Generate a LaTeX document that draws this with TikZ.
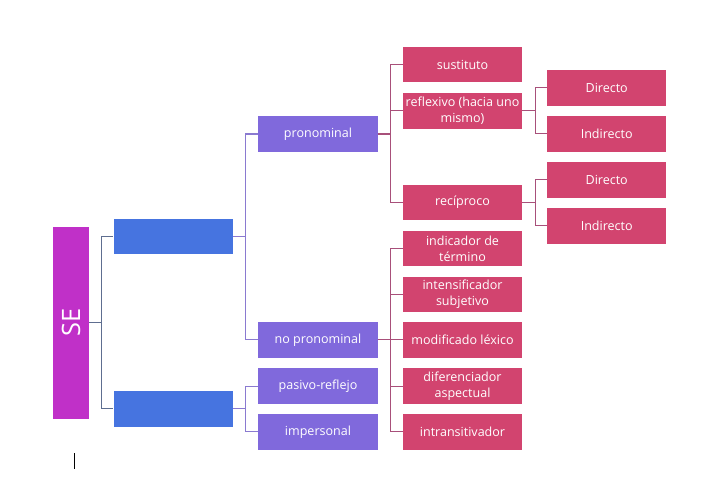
\documentclass[tikz,border=0pt]{standalone}
\usepackage{fontspec}
\setmainfont{Open Sans}
\definecolor{cSE}{HTML}{C030C8}
\definecolor{cBlue}{HTML}{4674E0}
\definecolor{cPurple}{HTML}{8069DC}
\definecolor{cPink}{HTML}{D2446F}
\definecolor{lnA}{HTML}{5E6E90}
\definecolor{lnB}{HTML}{8A7AD0}
\definecolor{lnC}{HTML}{A8507A}
\tikzset{
  box/.style={rectangle, inner sep=0pt, minimum width=89.5pt, minimum height=26.6pt,
    text=white, align=center, font=\fontsize{9.4}{12}\selectfont},
  bluebox/.style={box, fill=cBlue},
  purplebox/.style={box, fill=cPurple},
  pinkbox/.style={box, fill=cPink},
  conn/.style={line width=0.8pt},
}
\begin{document}
\begin{tikzpicture}[x=0.75pt,y=-0.75pt]
\useasboundingbox (0,0) rectangle (727,495);
\fill[white] (0,0) rectangle (727,495);
% level 0
\node[rectangle, fill=cSE, minimum width=26.8pt, minimum height=144pt, inner sep=0pt] (se) at (71.2,322.8) {};
\node[text=white, rotate=90, font=\fontsize{19}{20}\selectfont] (setext) at (se.center) {SE};
% level 1
\node[bluebox] (b1) at (173.3,236.7) {};
\node[bluebox] (b2) at (173.3,408.8) {};
% level 2
\node[purplebox] (pron) at (318,134) {pronominal};
\node[purplebox] (nopron) at (318,339.8) {no pronominal};
\node[purplebox] (pasivo) at (318,386.2) {pasivo-reflejo};
\node[purplebox] (imper) at (318,431.8) {impersonal};
% level 3
\node[pinkbox] (sust) at (462.5,64.7) {sustituto};
\node[pinkbox] (refl) at (462.5,110.8) {reflexivo (hacia uno\\mismo)};
\node[pinkbox] (recip) at (462.5,202.5) {recíproco};
\node[pinkbox] (indic) at (462.5,248.3) {indicador de\\término};
\node[pinkbox] (inten) at (462.5,294.5) {intensificador\\subjetivo};
\node[pinkbox] (modif) at (462.5,339.8) {modificado léxico};
\node[pinkbox] (difer) at (462.5,386.2) {diferenciador\\aspectual};
\node[pinkbox] (intra) at (462.5,431.8) {intransitivador};
% level 4
\node[pinkbox] (dir1) at (606.7,87.8) {Directo};
\node[pinkbox] (ind1) at (606.7,133.8) {Indirecto};
\node[pinkbox] (dir2) at (606.7,179.8) {Directo};
\node[pinkbox] (ind2) at (606.7,225.8) {Indirecto};
% connectors
\foreach \c in {b1,b2} \draw[conn, lnA] (se.east) -- ++(12,0) |- (\c.west);
\foreach \c in {pron,nopron} \draw[conn, lnB] (b1.east) -- ++(12,0) |- (\c.west);
\foreach \c in {pasivo,imper} \draw[conn, lnB] (b2.east) -- ++(12,0) |- (\c.west);
\foreach \c in {sust,refl,recip} \draw[conn, lnC] (pron.east) -- ++(13,0) |- (\c.west);
\foreach \c in {indic,inten,modif,difer,intra} \draw[conn, lnC] (nopron.east) -- ++(13,0) |- (\c.west);
\foreach \c in {dir1,ind1} \draw[conn, lnC] (refl.east) -- ++(13,0) |- (\c.west);
\foreach \c in {dir2,ind2} \draw[conn, lnC] (recip.east) -- ++(13,0) |- (\c.west);
% cursor mark
\coordinate (cur1) at (74.5,453);
\coordinate (cur2) at (74.5,469);
\draw[line width=0.8pt, black] (cur1) -- (cur2);
\end{tikzpicture}
\end{document}
